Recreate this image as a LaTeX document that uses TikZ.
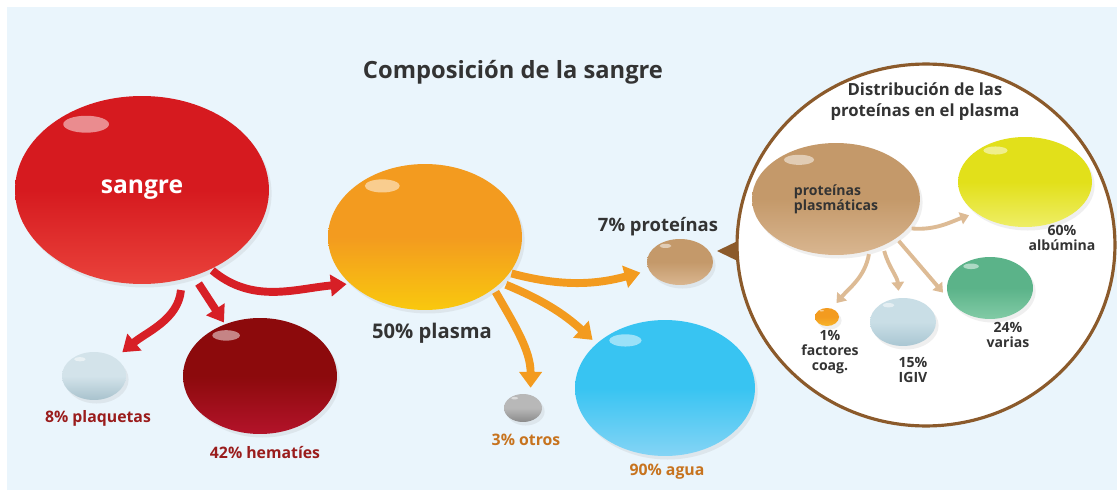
\documentclass[tikz,border=0pt]{standalone}
\usepackage{fontspec}
\setmainfont{Open Sans}
\usetikzlibrary{arrows.meta,positioning,shapes.geometric,calc,shadows}

\definecolor{bgblue}{HTML}{EAF5FC}
\definecolor{txtgray}{HTML}{333333}
\definecolor{lblred}{HTML}{9A1C1C}
\definecolor{lblorange}{HTML}{C7731E}
\definecolor{bubbleline}{HTML}{8B5A2B}
\definecolor{arrred}{HTML}{D71F26}
\definecolor{arrorange}{HTML}{F39B1F}
\definecolor{arrtan}{HTML}{DDBB95}
% drop colours (top / bottom)
\definecolor{redtop}{HTML}{D61A1F}    \definecolor{redbot}{HTML}{E9423B}
\definecolor{plaqtop}{HTML}{D3E3EA}   \definecolor{plaqbot}{HTML}{A8C2CD}
\definecolor{hemtop}{HTML}{8C0A0C}    \definecolor{hembot}{HTML}{B3132A}
\definecolor{plastop}{HTML}{F39B1F}   \definecolor{plasbot}{HTML}{F9C80E}
\definecolor{tantop}{HTML}{C4996A}    \definecolor{tanbot}{HTML}{D9B690}
\definecolor{graytop}{HTML}{B8B8B8}   \definecolor{graybot}{HTML}{8A8A8A}
\definecolor{aguatop}{HTML}{38C4F2}   \definecolor{aguabot}{HTML}{84D4F5}
\definecolor{albtop}{HTML}{E2E01A}    \definecolor{albbot}{HTML}{EEEE66}
\definecolor{vartop}{HTML}{5BB389}    \definecolor{varbot}{HTML}{82CBA6}
\definecolor{igivtop}{HTML}{C9DEE6}   \definecolor{igivbot}{HTML}{A9C6D2}
\definecolor{facttop}{HTML}{F39B1F}   \definecolor{factbot}{HTML}{F7B52A}

\begin{document}
\begin{tikzpicture}[
x=0.02cm, y=-0.02cm,
drop/.style 2 args={ellipse, inner sep=0pt, top color=#1, bottom color=#2, middle color=#1,
  drop shadow={opacity=.12, shadow xshift=1.5pt, shadow yshift=-2pt},
  path picture={\fill[white, opacity=.5] let \p1=(path picture bounding box.south west),
    \p2=(path picture bounding box.north east) in
    ({\x1+0.28*(\x2-\x1)},{\y2-0.15*(\y2-\y1)}) ellipse ({0.09*(\x2-\x1)} and {0.045*(\y2-\y1)});}},
lbl/.style={font=\bfseries\fontsize{9}{10}\selectfont, align=center},
small/.style={font=\bfseries\fontsize{8}{8.6}\selectfont, align=center, text=txtgray},
redarrow/.style={draw=arrred, line width=4.5pt, -{Triangle[length=9pt, width=12pt]}},
orangearrow/.style={draw=arrorange, line width=4.5pt, -{Triangle[length=9pt, width=12.5pt]}},
tanarrow/.style={draw=arrtan, line width=2.2pt, -{Triangle[length=5pt, width=7pt]}}
]
\useasboundingbox (0,0) rectangle (1117,490);
\fill[bgblue] (7,7) rectangle (1117,490);

\node[text=txtgray, font=\bfseries\fontsize{13.5}{16}\selectfont] (title) at (513,72) {Composición de la sangre};

% left part
\node[drop={redtop}{redbot}, minimum width=5.08cm, minimum height=3.76cm,
  text=white, font=\bfseries\fontsize{14}{16}\selectfont] (sangre) at (142,190) {sangre};
\node[drop={plaqtop}{plaqbot}, minimum width=1.28cm, minimum height=0.96cm] (plaq) at (94,376) {};
\node[drop={hemtop}{hembot}, minimum width=3.08cm, minimum height=2.32cm] (hem) at (260,376) {};
\node[drop={plastop}{plasbot}, minimum width=3.88cm, minimum height=2.92cm] (plasma) at (425,237) {};
\node[drop={tantop}{tanbot}, minimum width=1.32cm, minimum height=0.92cm] (prot) at (680,262) {};
\node[drop={graytop}{graybot}, minimum width=0.76cm, minimum height=0.56cm] (otros) at (523,408) {};
\node[drop={aguatop}{aguabot}, minimum width=3.6cm, minimum height=2.72cm] (agua) at (665,388) {};

\node[lbl, text=lblred] (plaqlbl) at (98,418) {8\% plaquetas};
\node[lbl, text=lblred] (hemlbl) at (265,453) {42\% hematíes};
\node[text=txtgray, font=\bfseries\fontsize{11.5}{13}\selectfont] (plasmalbl) at (432,333) {50\% plasma};
\node[text=txtgray, font=\bfseries\fontsize{10.5}{12}\selectfont] (protlbl) at (658,227) {7\% proteínas};
\node[lbl, text=lblorange] (otroslbl) at (526,440) {3\% otros};
\node[lbl, text=lblorange] (agualbl) at (667,472) {90\% agua};

\draw[redarrow, shorten <=1pt, shorten >=2pt] (sangre.-49) to[out=-40, in=185] (plasma.212);
\draw[redarrow, shorten <=5pt, shorten >=1pt] (sangre.-59) -- (hem.124);
\draw[redarrow, shorten <=6pt, shorten >=5pt] (sangre.-66) to[out=-95, in=40] (plaq.40);
\draw[orangearrow, shorten <=1pt, shorten >=5pt] (plasma.-23) to[out=-15, in=195] (prot.195);
\draw[orangearrow, shorten <=3pt, shorten >=3pt] (plasma.-31) to[bend left=10] (agua.147);
\draw[orangearrow, shorten <=2pt, shorten >=4pt] (plasma.-37) to[out=-60, in=90] (otros.60);

% bubble with the protein distribution
\coordinate (ptip) at (717,251);
\fill[bubbleline] (ptip) -- (748,236) -- (748,266) -- cycle;
\node[ellipse, draw=bubbleline, line width=1.8pt, fill=white, inner sep=0pt,
  minimum width=7.56cm, minimum height=7.24cm] (bubble) at (926,245) {};

\node[small, font=\bfseries\fontsize{9.5}{12}\selectfont] (subtitle) at (925,102) {Distribución de las\\proteínas en el plasma};

\node[drop={tantop}{tanbot}, minimum width=3.36cm, minimum height=2.24cm,
  small, align=left] (plasm) at (836,199) {proteínas\\plasmáticas};
\node[drop={albtop}{albbot}, minimum width=2.68cm, minimum height=1.8cm] (alb) at (1025,182) {};
\node[drop={vartop}{varbot}, minimum width=1.72cm, minimum height=1.24cm] (varias) at (990,288) {};
\node[drop={igivtop}{igivbot}, minimum width=1.32cm, minimum height=0.96cm] (igiv) at (903,322) {};
\node[drop={facttop}{factbot}, minimum width=0.48cm, minimum height=0.36cm] (fact) at (827,317) {};

\node[small] (alblbl) at (1062,238) {60\%\\albúmina};
\node[small] (variaslbl) at (1008,335) {24\%\\varias};
\node[small] (igivlbl) at (913,370) {15\%\\IGIV};
\node[small] (factlbl) at (830,352) {1\%\\factores\\coag.};

\draw[tanarrow, shorten <=2pt, shorten >=4pt] (plasm.-22) to[out=-5, in=200] (alb.212);
\draw[tanarrow, shorten <=2pt, shorten >=8pt] (plasm.-33) -- (varias.202);
\draw[tanarrow, shorten <=3pt, shorten >=4pt] (plasm.-45) to[out=-75, in=95] (igiv.99);
\draw[tanarrow, shorten <=2pt, shorten >=4pt] (plasm.-57) to[out=-100, in=50] (fact.60);
\end{tikzpicture}
\end{document}
